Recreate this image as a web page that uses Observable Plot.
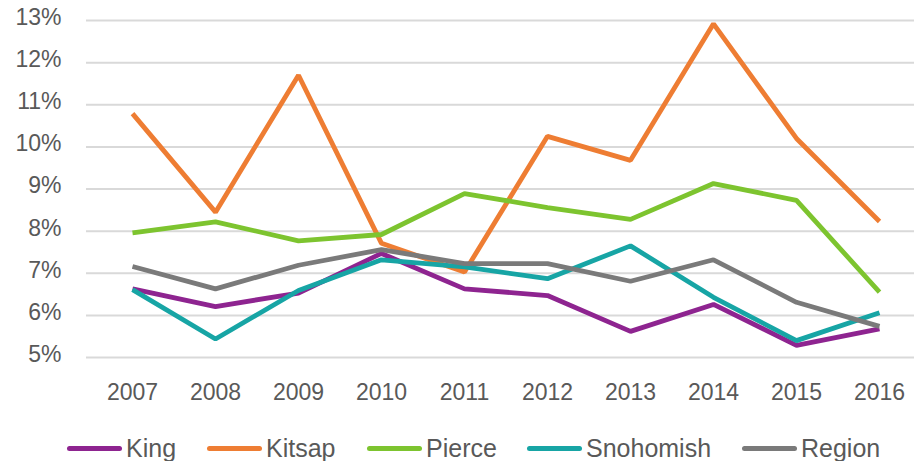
<!DOCTYPE html>
<html>
<head>
<meta charset="utf-8">
<script src="https://cdn.jsdelivr.net/npm/d3@7"></script>
<script src="https://cdn.jsdelivr.net/npm/@observablehq/plot@0.6"></script>
<style>
  body { margin: 0; background: #fff; font-family: "Liberation Sans", Arial, sans-serif; }
  #chart { width: 914px; }
  .legend { position: relative; height: 46px; font-size: 25px; color: #595959; }
  .item { position: absolute; top: 19px; display: flex; align-items: center; line-height: 28px; }
  .sw { display: inline-block; width: 55px; height: 5px; border-radius: 3px; margin-right: 4px; }
</style>
</head>
<body>
<div id="chart"></div>
<script>
const years = [2007, 2008, 2009, 2010, 2011, 2012, 2013, 2014, 2015, 2016];
const seriesNames = ["King", "Kitsap", "Pierce", "Snohomish", "Region"];
const colors = ["#8E2490", "#EE7D33", "#7DC42F", "#17A5A5", "#7A7A7A"];
const king      = [6.63, 6.21, 6.53, 7.47, 6.63, 6.47, 5.62, 6.26, 5.29, 5.68];
const kitsap    = [10.79, 8.45, 11.70, 7.71, 7.03, 10.25, 9.68, 12.92, 10.20, 8.23];
const pierce    = [7.96, 8.22, 7.77, 7.92, 8.89, 8.56, 8.28, 9.13, 8.73, 6.55];
const snohomish = [6.61, 5.44, 6.59, 7.32, 7.15, 6.87, 7.65, 6.43, 5.40, 6.06];
const region    = [7.16, 6.63, 7.19, 7.56, 7.23, 7.23, 6.81, 7.32, 6.31, 5.74];
const yTicks = [5, 6, 7, 8, 9, 10, 11, 12, 13];

const valuesBySeries = [king, kitsap, pierce, snohomish, region];
const data = [];
seriesNames.forEach((s, i) => {
  years.forEach((y, j) => data.push({series: s, year: String(y), value: valuesBySeries[i][j]}));
});

const chart = Plot.plot({
  width: 914,
  height: 415,
  marginTop: 20,
  marginBottom: 58,
  marginLeft: 86,
  marginRight: 0,
  style: {fontFamily: "'Liberation Sans', Arial, sans-serif", fontSize: "23px", color: "#595959", background: "#fff"},
  x: {type: "point", domain: years.map(String), range: [128, 882], padding: 0, label: null},
  y: {domain: [5, 13], label: null},
  color: {domain: seriesNames, range: colors},
  marks: [
    Plot.gridY(yTicks, {stroke: "#d9d9d9", strokeOpacity: 1, strokeWidth: 2}),
    Plot.axisX({tickSize: 0, tickPadding: 26, fill: "#595959", fontSize: 23}),
    Plot.axisY(yTicks, {tickSize: 0, tickPadding: 25, tickFormat: d => d + "%", fill: "#595959", fontSize: 23, dy: -3}),
    Plot.line(data, {x: "year", y: "value", z: "series", stroke: "series", strokeWidth: 4.8, strokeLinejoin: "miter", strokeLinecap: "butt"})
  ]
});
document.getElementById("chart").appendChild(chart);

const legend = document.createElement("div");
legend.className = "legend";
const lefts = [67, 207, 367, 527, 742];
seriesNames.forEach((s, i) => {
  const item = document.createElement("div");
  item.className = "item";
  item.style.left = lefts[i] + "px";
  const sw = document.createElement("span");
  sw.className = "sw";
  sw.style.background = colors[i];
  item.appendChild(sw);
  const t = document.createElement("span");
  t.textContent = s;
  item.appendChild(t);
  legend.appendChild(item);
});
document.getElementById("chart").appendChild(legend);
</script>
</body>
</html>
